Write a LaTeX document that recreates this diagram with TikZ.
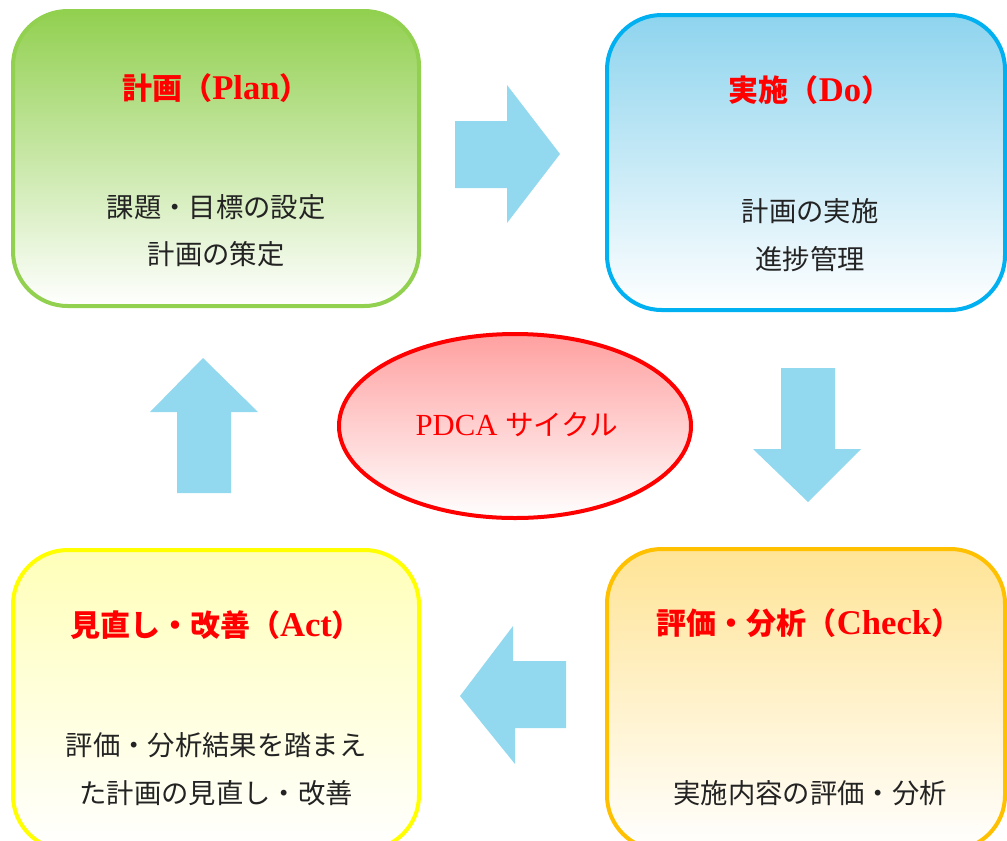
\documentclass[tikz,border=0pt]{standalone}
\usepackage{fontspec}
\setmainfont{Liberation Serif}
\newfontfamily\jp{Noto Sans CJK JP}
\usetikzlibrary{shapes.geometric}
\definecolor{plangreen}{RGB}{146,208,80}
\definecolor{doblue}{RGB}{0,176,240}
\definecolor{dofill}{RGB}{142,212,238}
\definecolor{actyellow}{RGB}{255,255,0}
\definecolor{actfill}{RGB}{255,255,185}
\definecolor{checkorange}{RGB}{255,192,0}
\definecolor{checkfill}{RGB}{255,228,150}
\definecolor{cyclefill}{RGB}{255,160,160}
\definecolor{arrowblue}{RGB}{146,216,239}
\definecolor{titlered}{RGB}{255,0,0}
\definecolor{bodytext}{RGB}{35,35,35}
\newcommand{\lat}[1]{{\fontsize{26}{27}\selectfont #1}}
\begin{document}
\begin{tikzpicture}[x=0.75pt,y=-0.75pt,
  stagebox/.style={draw,line width=3pt,rounded corners=41pt,inner sep=0pt},
  titletext/.style={text=titlered,font=\fontsize{22.5}{27}\selectfont\bfseries,inner sep=0pt,anchor=center},
  bodytxt/.style={text=bodytext,font=\jp\fontsize{20.5}{35.5}\selectfont,align=center,inner sep=0pt,anchor=center},
  blockarrow/.style={fill=arrowblue,draw=none}]
\useasboundingbox (0,0) rectangle (1007,840);
\clip (0,0) rectangle (1007,840);
\fill[white] (0,0) rectangle (1007,840);
% stage boxes
\node[stagebox,draw=plangreen,top color=plangreen,bottom color=white,
  minimum width=304.5pt,minimum height=221.25pt] (plan) at (216,158.5) {};
\node[stagebox,draw=doblue,top color=dofill,bottom color=white,
  minimum width=298.5pt,minimum height=221.25pt] (do) at (806,162.5) {};
\node[stagebox,draw=actyellow,top color=actfill,bottom color=white,
  minimum width=304.5pt,minimum height=225pt] (act) at (216,700) {};
\node[stagebox,draw=checkorange,top color=checkfill,bottom color=white,
  minimum width=298.5pt,minimum height=225.75pt] (check) at (806,699.5) {};
% centre ellipse
\node[ellipse,draw=titlered,line width=3pt,top color=cyclefill,bottom color=white,
  minimum width=264pt,minimum height=138pt,inner sep=0pt] (cycle) at (515,426) {};
\node[text=titlered,font=\fontsize{23}{26}\selectfont,inner sep=0pt] (cycletext) at (517,425)
  {PDCA {\jp\fontsize{21.5}{26}\selectfont サイクル}};
% titles
\node[titletext] (plantitle) at (216,88) {{\jp 計画（}\lat{Plan}{\jp ）}};
\node[titletext] (dotitle) at (810,90) {{\jp 実施（}\lat{Do}{\jp ）}};
\node[titletext] (acttitle) at (216,625) {{\jp 見直し・改善（}\lat{Act}{\jp ）}};
\node[titletext] (checktitle) at (809,623) {{\jp 評価・分析（}\lat{Check}{\jp ）}};
% body texts
\node[bodytxt] (planbody) at (216,231) {課題・目標の設定\\計画の策定};
\node[bodytxt] (dobody) at (810,235) {計画の実施\\進捗管理};
\node[bodytxt] (actbody) at (216,769) {評価・分析結果を踏まえ\\た計画の見直し・改善};
\node[bodytxt] (checkbody) at (810,793) {実施内容の評価・分析};
% block arrows
\fill[blockarrow] (455,121) -- (507,121) -- (507,85) -- (560,154) -- (507,223) -- (507,188) -- (455,188) -- cycle;
\fill[blockarrow] (781,368) -- (835,368) -- (835,449) -- (861,449) -- (808,502) -- (753,449) -- (781,449) -- cycle;
\fill[blockarrow] (566,661) -- (513,661) -- (513,626) -- (460,696) -- (515,764) -- (515,728) -- (566,728) -- cycle;
\fill[blockarrow] (177,493) -- (177,412) -- (150,412) -- (203,358) -- (258,412) -- (231,412) -- (231,493) -- cycle;
\end{tikzpicture}
\end{document}
